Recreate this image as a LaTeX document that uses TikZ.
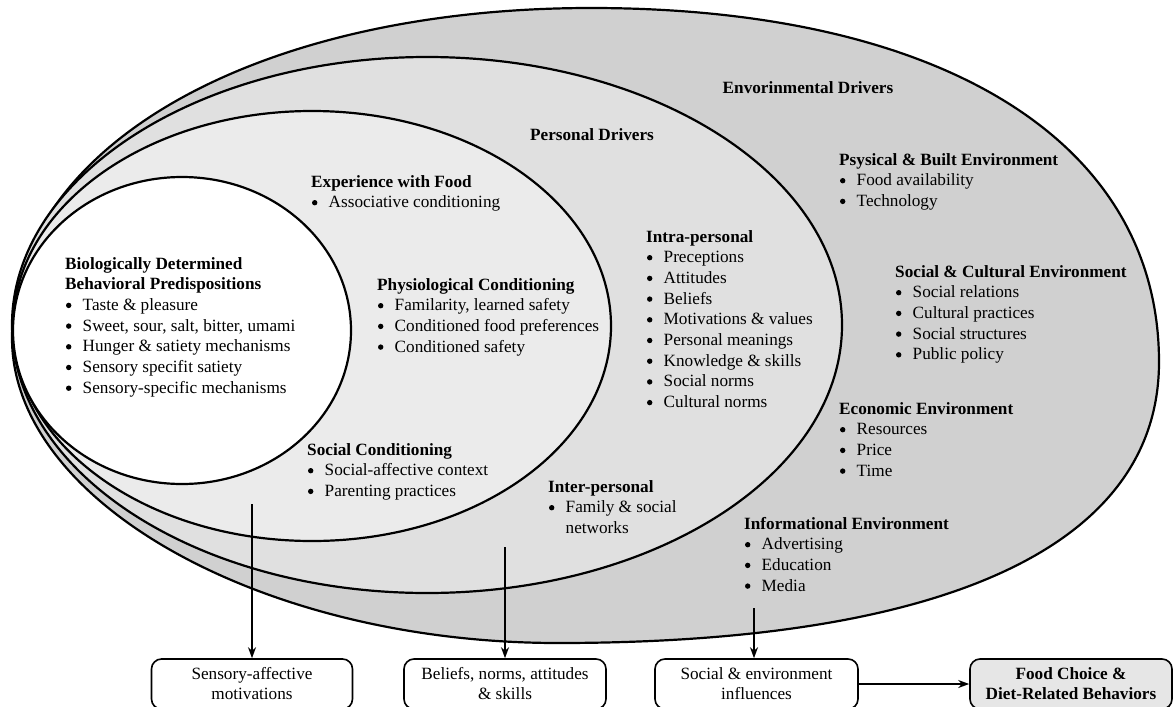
\documentclass[tikz,border=0pt]{standalone}
\usepackage{fontspec}
\setmainfont{Liberation Serif}
\usetikzlibrary{arrows.meta}

\definecolor{envgray}{RGB}{208,208,208}
\definecolor{persgray}{RGB}{224,224,224}
\definecolor{expgray}{RGB}{235,235,235}
\definecolor{resultgray}{RGB}{230,230,230}

% bullet item and stacked list helpers
\newcommand{\bul}{\makebox[17.5pt][l]{\hspace{0.8pt}\tikz[baseline=0pt]\fill[black] (2.7pt,5pt) circle[radius=2.7pt];}}
\newcommand{\bulskip}{\hspace*{17.5pt}}
\newcommand{\grouptext}[1]{\begin{tabular}[t]{@{}l@{}}#1\end{tabular}}

\begin{document}
\begin{tikzpicture}[x=1pt,y=-1pt,
  ring/.style={draw=black,line width=2.2pt},
  grp/.style={anchor=base west,inner sep=0pt,font=\fontsize{17.2}{20.7}\selectfont},
  ttl/.style={anchor=base,inner sep=0pt,font=\fontsize{17.2}{20.7}\selectfont\bfseries},
  outbox/.style={draw=black,line width=1.6pt,rounded corners=10pt,
    minimum width=201pt,minimum height=50pt,inner sep=0pt,align=center,
    font=\fontsize{17.2}{20}\selectfont,fill=white},
  arr/.style={line width=1.7pt,-{Stealth[length=11pt,width=8pt]}}]
\useasboundingbox (0,0) rectangle (1173,707);

% environmental drivers (outer ring)
\path[ring,fill=envgray] (12,338)
  .. controls (12,146.6) and (255.2,8) .. (591,8)
  .. controls (943,8) and (1159,142) .. (1159,362)
  .. controls (1159,544.7) and (948.7,643) .. (558,643)
  .. controls (263.2,643) and (12,502.7) .. (12,338) -- cycle;

% personal drivers
\path[ring,fill=persgray] (427,325) ellipse [x radius=415pt,y radius=268pt];
% experience with food
\path[ring,fill=expgray] (312,326) ellipse [x radius=299pt,y radius=215pt];
% biologically determined core
\path[ring,fill=white] (182,330.5) ellipse [x radius=169pt,y radius=153.5pt];

% ring titles
\node[ttl] (envt) at (808,93) {Envorinmental Drivers};
\node[ttl] (perst) at (592,140) {Personal Drivers};

% biological core
\node[grp] (bio) at (65,269) {\grouptext{\textbf{Biologically Determined}\\
  \textbf{Behavioral Predispositions}\\
  \bul Taste \& pleasure\\
  \bul Sweet, sour, salt, bitter, umami\\
  \bul Hunger \& satiety mechanisms\\
  \bul Sensory specifit satiety\\
  \bul Sensory-specific mechanisms}};

% experience with food
\node[grp] (exp) at (311,187) {\grouptext{\textbf{Experience with Food}\\
  \bul Associative conditioning}};
\node[grp] (phys) at (377,290) {\grouptext{\textbf{Physiological Conditioning}\\
  \bul Familarity, learned safety\\
  \bul Conditioned food preferences\\
  \bul Conditioned safety}};
\node[grp] (socc) at (307,455) {\grouptext{\textbf{Social Conditioning}\\
  \bul Social-affective context\\
  \bul Parenting practices}};

% personal drivers
\node[grp] (intra) at (646,242) {\grouptext{\textbf{Intra-personal}\\
  \bul Preceptions\\
  \bul Attitudes\\
  \bul Beliefs\\
  \bul Motivations \& values\\
  \bul Personal meanings\\
  \bul Knowledge \& skills\\
  \bul Social norms\\
  \bul Cultural norms}};
\node[grp] (inter) at (548,492) {\grouptext{\textbf{Inter-personal}\\
  \bul Family \& social\\
  \bulskip networks}};

% environmental drivers
\node[grp] (built) at (839,165) {\grouptext{\textbf{Psysical \& Built Environment}\\
  \bul Food availability\\
  \bul Technology}};
\node[grp] (scult) at (895,277) {\grouptext{\textbf{Social \& Cultural Environment}\\
  \bul Social relations\\
  \bul Cultural practices\\
  \bul Social structures\\
  \bul Public policy}};
\node[grp] (econ) at (839,414) {\grouptext{\textbf{Economic Environment}\\
  \bul Resources\\
  \bul Price\\
  \bul Time}};
\node[grp] (info) at (744,529) {\grouptext{\textbf{Informational Environment}\\
  \bul Advertising\\
  \bul Education\\
  \bul Media}};

% outcome boxes
\node[outbox] (b1) at (252,684) {Sensory-affective\\motivations};
\node[outbox,minimum width=202pt] (b2) at (505,684) {Beliefs, norms, attitudes\\\& skills};
\node[outbox,minimum width=203pt] (b3) at (756.5,684) {Social \& environment\\influences};
\node[outbox,minimum width=202pt,fill=resultgray,
  font=\fontsize{17.2}{20}\selectfont\bfseries] (b4) at (1071,684)
  {Food Choice \&\\Diet-Related Behaviors};

% arrows
\coordinate (s1) at (252,504);
\coordinate (s2) at (505,547);
\coordinate (s3) at (754,608);
\draw[arr] (s1) -- (b1.north);
\draw[arr] (s2) -- (b2.north);
\draw[arr] (s3) -- (s3 |- b3.north);
\draw[arr] (b3.east) -- (b4.west);
\end{tikzpicture}
\end{document}
